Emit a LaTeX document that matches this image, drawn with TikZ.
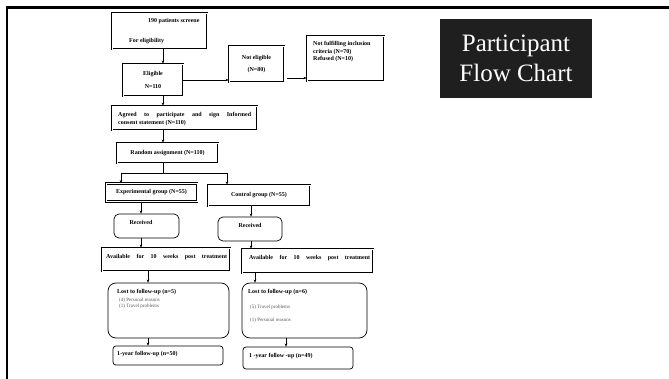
\documentclass[tikz,border=0pt]{standalone}
\usepackage{fontspec}
\setmainfont{Liberation Serif}
\usetikzlibrary{arrows.meta}
\definecolor{titlebg}{HTML}{1F1F1F}
\definecolor{subgray}{HTML}{555555}
\tikzset{
  dbox/.style={draw=black, line width=0.9pt, double=white, double distance=0.7pt, inner sep=0pt},
  rbox/.style={draw=black, line width=0.7pt, rounded corners=5pt, inner sep=0pt},
  t/.style={font=\fontsize{6}{7.5}\selectfont\bfseries, inner sep=0pt},
  sub/.style={font=\fontsize{5}{6}\selectfont, text=subgray, inner sep=0pt},
  arr/.style={-{Stealth[length=3pt,width=2.6pt]}, line width=0.5pt},
  ln/.style={line width=0.5pt}
}
\begin{document}
\begin{tikzpicture}[x=1pt,y=-1pt]
\useasboundingbox (0,0) rectangle (669,379);
% frame
\draw[line width=3pt] (5.8,7.5) -- (669,7.5);
\draw[line width=2.5pt] (7,6) -- (7,379);
% title
\node[fill=titlebg, text=white, minimum width=152, minimum height=79, inner sep=0pt,
      font=\fontsize{25}{30}\selectfont, align=center] (title) at (516,58.5) {Participant\\Flow Chart};
% spine coordinates
\coordinate (sp) at (163,0);
% boxes
\node[dbox, minimum width=95, minimum height=36] (b1) at (159.5,31) {};
\node[t, anchor=base west] (b1a) at (148,23) {190 patients screene};
\node[t, anchor=base west] (b1b) at (129,43) {For eligibility};
\node[dbox, minimum width=60, minimum height=32, t, align=center] (el) at (153,80) {Eligible\\[5pt]N=110};
\node[dbox, minimum width=55, minimum height=36, t, align=center] (ne) at (256.5,64) {Not eligible\\[5pt](N=80)};
\node[dbox, minimum width=77, minimum height=45] (nf) at (345.5,58.5) {};
\node[t, anchor=north west, align=left] (nft) at (313,41.5) {Not fulfilling inclusion\\criteria (N=70)\\Refused (N=10)};
\node[dbox, minimum width=145, minimum height=24] (ag) at (184.5,118) {};
\node[t, anchor=base west] (agt1) at (118,116.5) {\makebox[133pt][s]{Agreed to participate and sign Informed}};
\node[t, anchor=base west] (agt2) at (118,124.5) {consent statement (N=110)};
\node[dbox, minimum width=101, minimum height=20, t] (ra) at (167.5,153) {Random assignment (N=110)};
\node[dbox, minimum width=91, minimum height=18, t] (ex) at (151.5,192.5) {Experimental group (N=55)};
\node[dbox, minimum width=102, minimum height=21, t] (co) at (259,195.5) {Control group (N=55)};
\node[rbox, minimum width=65, minimum height=24] (rl) at (146.5,226) {};
\node[t] (rlt) at (141,222) {Received};
\node[rbox, minimum width=64, minimum height=24] (rr) at (250,229) {};
\node[t] (rrt) at (250,225) {Received};
\node[dbox, minimum width=128, minimum height=23] (al) at (166,259.5) {};
\node[t, anchor=west] (alt) at (106,257) {\makebox[121pt][s]{Available for 10 weeks post treatment}};
\node[dbox, minimum width=131, minimum height=24] (ar) at (307.5,261) {};
\node[t, anchor=west] (art) at (249,258) {\makebox[121pt][s]{Available for 10 weeks post treatment}};
\node[rbox, rounded corners=8pt, minimum width=121, minimum height=55] (ll) at (168.5,310.5) {};
\node[t, anchor=base west] (llt) at (117,294) {Lost to follow-up (n=5)};
\node[sub, anchor=base west] (lla) at (119,301.5) {(4) Personal reasons};
\node[sub, anchor=base west] (llb) at (119,307.5) {(1) Travel problems};
\node[rbox, rounded corners=8pt, minimum width=125, minimum height=55] (lr) at (304.5,310.5) {};
\node[t, anchor=base west] (lrt) at (248,294) {Lost to follow-up (n=6)};
\node[sub, anchor=base west] (lra) at (250,308.5) {(5) Travel problems};
\node[sub, anchor=base west] (lrb) at (250,321.5) {(1) Personal reasons};
\node[rbox, rounded corners=3pt, minimum width=110, minimum height=19] (yl) at (168,355.5) {};
\node[t, anchor=west] (ylt) at (117,354.5) {1-year follow-up (n=50)};
\node[rbox, rounded corners=3pt, minimum width=110, minimum height=22] (yr) at (298,358) {};
\node[t, anchor=west] (yrt) at (249,356) {1 -year follow -up (n=49)};
% connector coordinates
\coordinate (r2) at (0,78);
\coordinate (br) at (0,173);
\coordinate (xl) at (121,0);
\coordinate (xr) at (227,0);
\coordinate (xa) at (141,0);
\coordinate (xb) at (251,0);
\coordinate (xc) at (148,0);
\coordinate (xd) at (255,0);
\coordinate (xe) at (286,0);
% connectors
\draw[arr] (b1.south -| sp) -- (el.north -| sp);
\draw[arr] (el.east) -- (ne.west |- el.east);
\draw[arr] ([xshift=3pt]ne.east |- r2) -- (nf.west |- r2);
\draw[arr] (el.south -| sp) -- (ag.north -| sp);
\draw[arr] (ag.south -| sp) -- (ra.north -| sp);
\draw[ln] (ra.south -| sp) -- (sp |- br);
\draw[ln] (xl |- br) -- (xr |- br);
\draw[arr] (xl |- br) -- (ex.north -| xl);
\draw[arr] (xr |- br) -- (co.north -| xr);
\draw[arr] (ex.south -| xa) -- (rl.north -| xa);
\draw[arr] (co.south -| xb) -- (rr.north -| xb);
\draw[arr] (rl.south -| xa) -- (al.north -| xa);
\draw[arr] (rr.south -| xb) -- (ar.north -| xb);
\draw[arr] (al.south -| xc) -- (ll.north -| xc);
\draw[arr] (ar.south -| xd) -- (lr.north -| xd);
\draw[arr] (ll.south -| xc) -- (yl.north -| xc);
\draw[arr] (lr.south -| xe) -- (yr.north -| xe);
\end{tikzpicture}
\end{document}
